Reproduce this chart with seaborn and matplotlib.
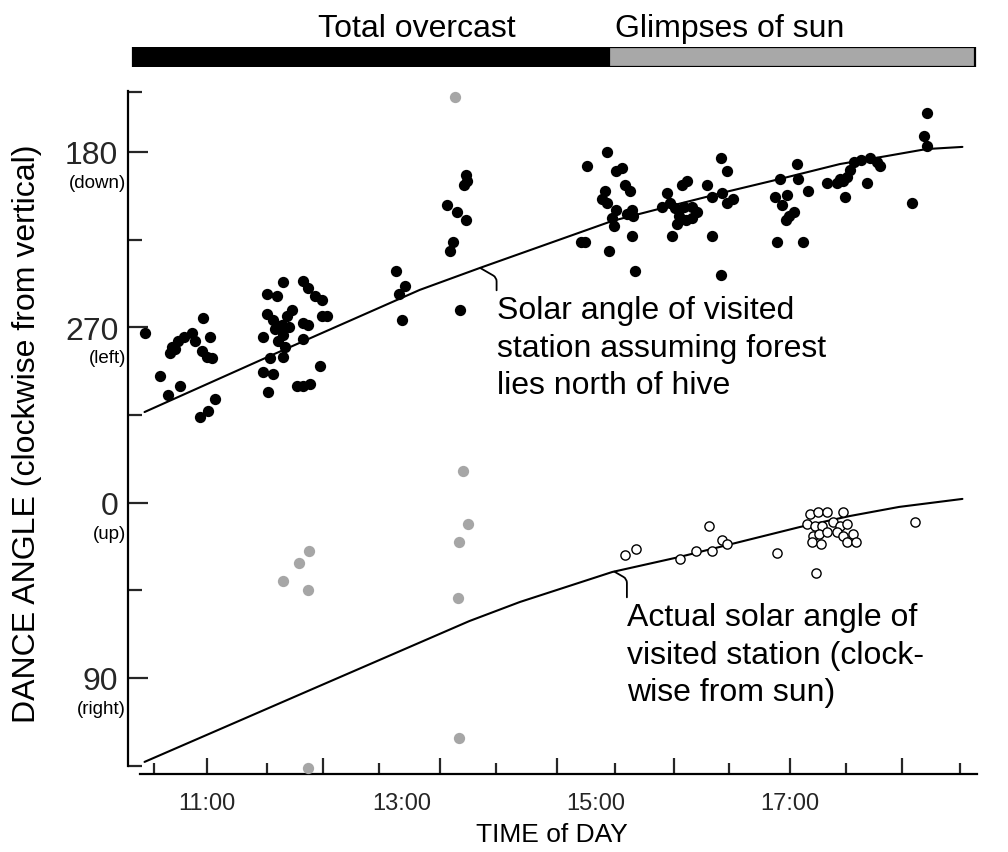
import matplotlib
matplotlib.use("Agg")
import matplotlib.pyplot as plt
import seaborn as sns

# ---------------- data (time in hours, dance angle unwrapped: 180..495 = 180,270,0,90,...) -------------
black_time = [
    10.36, 10.96, 10.64, 10.70, 10.77, 10.85, 10.88, 10.62, 10.67, 11.03, 10.95, 11.00, 11.05, 10.52, 10.60, 10.72, 11.08, 11.01, 10.93,
    11.78, 11.72, 11.62, 11.99, 12.04, 12.11, 12.18, 11.62, 11.68, 11.82, 11.88, 11.77, 11.78, 11.73, 11.85, 11.58, 11.99, 12.04, 11.99, 12.18, 12.24, 11.78, 11.65, 11.58, 11.68, 11.63, 12.16, 11.93, 12.06, 11.99, 11.80, 11.70,
    12.95, 13.04, 12.98, 13.01, 13.60, 13.67, 13.68, 13.65, 13.47, 13.57, 13.67, 13.53, 13.50,
    15.12, 14.91, 15.21, 15.27, 15.30, 15.35, 15.09, 15.06, 15.12, 15.21, 15.17, 15.19, 15.32, 15.37, 15.38, 14.85, 14.89, 15.37, 15.14, 15.40,
    15.73, 15.76, 15.81, 15.86, 15.93, 15.99, 16.04, 15.99, 15.91, 15.89, 15.94, 16.14, 16.19, 16.30, 16.35, 16.41, 16.29, 16.35, 15.78, 16.20, 16.29, 15.68, 15.84,
    18.41, 18.38, 18.41, 17.07, 17.08, 16.89, 17.18, 16.84, 16.91, 16.97, 16.99, 16.96, 17.04, 16.86, 17.13, 17.38, 17.48, 17.54, 17.58, 17.61, 17.66, 17.73, 17.82, 17.89, 17.92, 17.51, 17.79, 17.56, 18.25,
]
black_angle = [
    273, 265, 280, 277, 275, 273, 277, 283, 281, 275, 282, 285, 286, 295, 305, 300, 307, 313, 316,
    247, 254, 253, 246, 250, 254, 256, 263, 266, 264, 261, 269, 274, 277, 270, 275, 268, 269, 276, 264, 264, 285, 286, 293, 294, 303, 290, 300, 299, 300, 280, 271,
    241, 249, 253, 266, 261, 192, 195, 197, 207, 211, 215, 226, 231,
    180, 187, 190, 188, 197, 200, 200, 204, 206, 210, 214, 218, 212, 210, 213, 226, 226, 223, 231, 241,
    201, 206, 209, 213, 215, 214, 211, 208, 208, 197, 195, 197, 203, 201, 206, 204, 183, 190, 223, 223, 243, 208, 217,
    160, 172, 177, 186, 194, 194, 200, 203, 207, 202, 213, 215, 211, 226, 226, 196, 196, 195, 193, 189, 185, 184, 183, 185, 187, 194, 196, 203, 206,
]

gray_time = [13.55, 11.78, 11.95, 12.05, 12.04, 13.63, 13.69, 13.59, 13.58, 13.59, 12.04]
gray_angle = [152, 400, 391, 385, 405, 344, 371, 380, 409, 481, 496]

open_time = [15.30, 15.41, 16.16, 15.87, 16.03, 16.19, 16.30, 16.35, 16.86, 17.26,
             17.20, 17.28, 17.38, 17.54, 17.17, 17.25, 17.33, 17.44, 17.51, 17.58,
             17.23, 17.30, 17.38, 17.48, 17.54, 17.64, 17.22, 17.32, 17.58, 17.68, 18.28]
open_angle = [387, 384, 372, 389, 385, 385, 379, 381, 386, 396,
              366, 365, 365, 365, 371, 372, 372, 370, 372, 371,
              377, 376, 375, 375, 377, 376, 380, 381, 380, 380, 370]

forest_curve_time = [10.36, 11.65, 13.19, 13.81, 15.17, 15.73, 16.38, 16.89, 17.51, 17.99, 18.40, 18.77]
forest_curve_angle = [313.5, 284.7, 250.8, 239.5, 215.4, 208.2, 200.0, 193.9, 186.2, 182.1, 178.5, 177.4]

actual_curve_time = [10.36, 12.16, 13.70, 14.22, 15.17, 15.86, 17.10, 17.61, 18.12, 18.77]
actual_curve_angle = [493.1, 454.1, 420.8, 411.0, 395.6, 387.9, 372.5, 366.9, 362.2, 358.1]

y_tick_values = [180, 270, 360, 450]
y_tick_labels = ["180", "270", "0", "90"]
y_tick_notes = ["(down)", "(left)", "(up)", "(right)"]
y_minor_values = [149, 225, 315, 405, 495]

x_label_hours = [11, 13, 15, 17]
x_tick_labels = ["11:00", "13:00", "15:00", "17:00"]
x_long_ticks = [11.0, 12.2, 13.4, 14.6, 15.8, 17.0, 18.15]
x_short_ticks = [10.46, 11.62, 12.77, 13.97, 15.2, 16.37, 17.57, 18.75]

sky_conditions = ["Total overcast", "Glimpses of sun"]
sky_start = [10.24, 15.14]
sky_end = [15.14, 18.90]
sky_colors = ["black", "#a8a8a8"]
sky_label_x = [13.16, 16.38]

# ---------------- style ----------------
sns.set_theme(style="white")
plt.rcParams["font.family"] = ["Liberation Sans", "DejaVu Sans"]
plt.rcParams["text.color"] = "black"
plt.rcParams["axes.edgecolor"] = "black"

W, H = 1008, 853
fig = plt.figure(figsize=(W / 100, H / 100), dpi=100)
ax = fig.add_axes([128 / W, 1 - 767 / H, (977 - 128) / W, (767 - 92) / H])
ax_bar = fig.add_axes([128 / W, 1 - 68 / H, (977 - 128) / W, 20 / H])

XMIN, XMAX = 10.19, 18.92

# curves
sns.lineplot(x=forest_curve_time, y=forest_curve_angle, ax=ax, color="black",
             linewidth=1.5, sort=False, estimator=None, zorder=2)
sns.lineplot(x=actual_curve_time, y=actual_curve_angle, ax=ax, color="black",
             linewidth=1.5, sort=False, estimator=None, zorder=2)

# points
sns.scatterplot(x=black_time, y=black_angle, ax=ax, color="black", s=66,
                marker="o", linewidth=0, zorder=3)
sns.scatterplot(x=gray_time, y=gray_angle, ax=ax, color="#a6a6a6", s=66,
                marker="o", linewidth=0, zorder=3)
ax.collections[-1].set_clip_on(False)
sns.scatterplot(x=open_time, y=open_angle, ax=ax, color="white", edgecolor="black",
                s=44, marker="o", linewidth=1.0, zorder=3)

ax.set_xlim(XMIN, XMAX)
ax.set_ylim(495.2, 148.7)

for s in ["top", "right"]:
    ax.spines[s].set_visible(False)
ax.spines["left"].set_linewidth(1.6)
ax.spines["bottom"].set_linewidth(1.6)
ax.spines["bottom"].set_position(("outward", 5.8))
ax.spines["bottom"].set_bounds(10.31, XMAX)

# y ticks
ax.set_yticks(y_tick_values, labels=y_tick_labels)
ax.set_yticks(y_minor_values, minor=True)
ax.tick_params(axis="y", which="major", direction="in", length=14.5, width=1.6,
               pad=7, labelsize=23, left=True)
ax.tick_params(axis="y", which="minor", direction="in", length=10, width=1.6, left=True)
for val, note in zip(y_tick_values, y_tick_notes):
    ax.annotate(note, xy=(0, val), xycoords=("axes fraction", "data"),
                xytext=(-1.5, -22), textcoords="offset points",
                ha="right", va="center", fontsize=13.5)

# x ticks (marks on main axis, labels on secondary axis)
ax.set_xticks(x_long_ticks, labels=[])
ax.set_xticks(x_short_ticks, minor=True)
ax.tick_params(axis="x", which="major", direction="in", length=11.5, width=1.6, bottom=True)
ax.tick_params(axis="x", which="minor", direction="in", length=8, width=1.6, bottom=True)

secax = ax.secondary_xaxis("bottom")
secax.set_xticks(x_label_hours, labels=x_tick_labels)
secax.tick_params(length=0, pad=19, labelsize=17)
secax.spines["bottom"].set_visible(False)

fig.text(552 / W, 1 - 835 / H, "TIME of DAY", ha="center", va="center", fontsize=19)
fig.text(27 / W, 1 - 434 / H, "DANCE ANGLE (clockwise from vertical)", rotation=90,
         ha="center", va="center", fontsize=23)

# annotations
ax.annotate("Solar angle of visited\nstation assuming forest\nlies north of hive",
            xy=(13.81, 239.5), xytext=(13.98, 253.4), ha="left", va="top",
            fontsize=23, linespacing=1.33,
            arrowprops=dict(arrowstyle="-", color="black", lw=1.3, shrinkA=1, shrinkB=0,
                            relpos=(0, 1),
                            connectionstyle="angle,angleA=90,angleB=-30,rad=4"))
ax.annotate("Actual solar angle of\nvisited station (clock-\nwise from sun)",
            xy=(15.19, 395.4), xytext=(15.32, 411.0), ha="left", va="top",
            fontsize=23, linespacing=1.33,
            arrowprops=dict(arrowstyle="-", color="black", lw=1.3, shrinkA=1, shrinkB=0,
                            relpos=(0, 1),
                            connectionstyle="angle,angleA=90,angleB=-30,rad=4"))

# sky condition bar
for cond, st, en, col, lx in zip(sky_conditions, sky_start, sky_end, sky_colors, sky_label_x):
    ax_bar.barh(0.5, en - st, left=st, height=1.0, color=col, edgecolor="black", linewidth=1.6)
    ax_bar.text(lx, 1.55, cond, ha="center", va="baseline", fontsize=23)
ax_bar.set_xlim(XMIN, XMAX)
ax_bar.set_ylim(0, 1)
ax_bar.axis("off")

fig.savefig("out.png", dpi=100)
